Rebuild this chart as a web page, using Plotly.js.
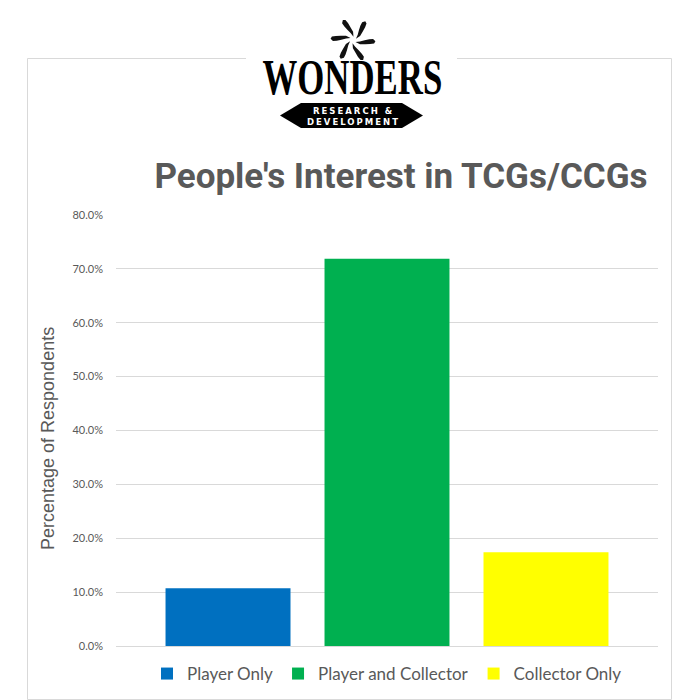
<!DOCTYPE html>
<html>
<head>
<meta charset="utf-8">
<script src="https://cdn.plot.ly/plotly-3.0.1.min.js"></script>
<style>html,body{margin:0;padding:0;background:#fff;}#chart{width:700px;height:700px;}</style>
</head>
<body>
<div id="chart"></div>
<script>
// ---- data ----
const categories = ['Player Only', 'Player and Collector', 'Collector Only'];
const values = [0.107, 0.719, 0.174];
const barColors = ['#0070C0', '#00B050', '#FFFF00'];
const yTickVals = [0, 0.1, 0.2, 0.3, 0.4, 0.5, 0.6, 0.7, 0.8];
const yTickText = ['0.0%', '10.0%', '20.0%', '30.0%', '40.0%', '50.0%', '60.0%', '70.0%', '80.0%'];
const titleText = "People's Interest in TCGs/CCGs";
const yTitleText = 'Percentage of Respondents';
const logoWord = 'WONDERS';
const logoSub = ['RESEARCH &amp;', 'DEVELOPMENT'];

// ---- layout helpers (pixel -> paper) ----
const L = 116, R = 658, T = 215, B = 646;
const px = x => (x - L) / (R - L);
const py = y => (B - y) / (B - T);
const grey = '#595959';
const lineGrey = '#d9d9d9';

const traces = categories.map((c, i) => ({
  type: 'bar',
  x: ['All'],
  y: [values[i]],
  name: c,
  marker: {color: barColors[i]},
  hoverinfo: 'name+y'
}));

const shapes = [];
function seg(x0, y0, x1, y1) {
  shapes.push({type: 'line', xref: 'paper', yref: 'paper', x0: px(x0), y0: py(y0), x1: px(x1), y1: py(y1),
    line: {color: lineGrey, width: 1}, layer: 'below'});
}
// outer frame (broken at top by logo)
seg(27.5, 58.5, 27.5, 699.5);
seg(671.5, 58.5, 671.5, 699.5);
seg(27.5, 699.5, 671.5, 699.5);
seg(27.5, 58.5, 246, 58.5);
seg(457, 58.5, 671.5, 58.5);

function pathFrom(pts) {
  return pts.map((p, i) => (i ? 'L' : 'M') + px(p[0]).toFixed(5) + ',' + py(p[1]).toFixed(5)).join(' ') + ' Z';
}
// pinwheel logo mark
const cx = 353, cy = 40;
const blade = [[3,-1],[7,1],[11,3.8],[15,6.3],[18.5,7.8],[21.5,6.5],[21,4],[17.5,2],[13,0.3],[8,-1.5],[3,-1]];
for (let k = 0; k < 6; k++) {
  const th = (100 + k * 60) * Math.PI / 180;
  const pts = blade.map(([u, v]) => [cx + u * Math.cos(th) - v * Math.sin(th), cy - (u * Math.sin(th) + v * Math.cos(th))]);
  shapes.push({type: 'path', xref: 'paper', yref: 'paper', path: pathFrom(pts), fillcolor: '#111', line: {width: 0}});
}
// banner
shapes.push({type: 'path', xref: 'paper', yref: 'paper',
  path: pathFrom([[280,115.5],[301,103],[402,103],[423,115.5],[402,128],[301,128]]),
  fillcolor: '#000', line: {width: 0}});

const annotations = [
  {text: logoWord, xref: 'paper', yref: 'paper', x: px(352), y: py(77.6), xanchor: 'center', yanchor: 'middle',
   showarrow: false, font: {family: 'Liberation Serif', size: 40, color: '#000', weight: 'bold'}},
  {text: '<span style="letter-spacing:2px">' + logoSub[0] + '</span>', xref: 'paper', yref: 'paper', x: px(353), y: py(111), xanchor: 'center', yanchor: 'middle',
   showarrow: false, font: {family: 'DejaVu Sans', size: 8.5, color: '#fff', weight: 'bold'}},
  {text: '<span style="letter-spacing:2px">' + logoSub[1] + '</span>', xref: 'paper', yref: 'paper', x: px(353), y: py(121.5), xanchor: 'center', yanchor: 'middle',
   showarrow: false, font: {family: 'DejaVu Sans', size: 8.5, color: '#fff', weight: 'bold'}},
  {text: yTitleText, xref: 'paper', yref: 'paper', x: px(48), y: py(439), xanchor: 'center', yanchor: 'middle',
   textangle: -90, showarrow: false, font: {family: 'Liberation Sans', size: 18, color: grey}}
];

const layout = {
  width: 700, height: 700,
  margin: {l: L, r: 700 - R, t: T, b: 700 - B, pad: 0, autoexpand: false},
  paper_bgcolor: '#fff', plot_bgcolor: '#fff',
  title: {text: titleText, xref: 'container', yref: 'container', x: 401 / 700, xanchor: 'center',
    y: 1 - 176 / 700, yanchor: 'middle', font: {family: 'Roboto', size: 35, color: grey, weight: 'bold'}},
  barmode: 'group', bargap: 0.12, bargroupgap: 0.214,
  xaxis: {showticklabels: false, showgrid: false, zeroline: false, showline: false, ticks: '', fixedrange: true},
  yaxis: {range: [0, 0.8], tickvals: yTickVals, ticktext: yTickText, showgrid: true, gridcolor: lineGrey, gridwidth: 1,
    zeroline: true, zerolinecolor: lineGrey, zerolinewidth: 1, showline: false, ticks: '', ticklabelstandoff: 12,
    tickfont: {family: 'Lato', size: 11, color: grey}, automargin: false},
  showlegend: true,
  legend: {orientation: 'h', x: 0.5, xanchor: 'center', yref: 'container', y: 1 - 674 / 700, yanchor: 'middle',
    font: {family: 'Lato', size: 17, color: grey}, bgcolor: 'rgba(0,0,0,0)'},
  shapes: shapes,
  annotations: annotations
};

Plotly.newPlot('chart', traces, layout, {displayModeBar: false, staticPlot: true}).then(gd => {
  // condense and stretch the logo word to resemble the wordmark
  const t = gd.querySelector('.annotation[data-index="0"] text');
  if (t) {
    t.style.transformBox = 'fill-box';
    t.style.transformOrigin = 'center';
    t.style.transform = 'scale(0.87,1.25)';
  }
});
</script>
</body>
</html>
